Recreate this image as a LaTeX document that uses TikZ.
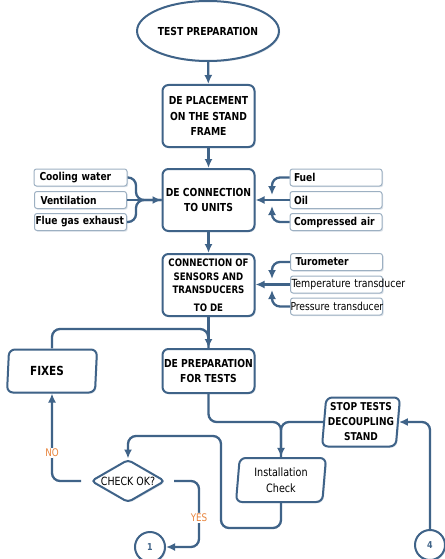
\documentclass[tikz,border=0pt]{standalone}
\usepackage{fontspec}
\setmainfont[FakeStretch=0.93]{DejaVu Sans Condensed}
\usetikzlibrary{arrows.meta,shapes.geometric,shadows}
\definecolor{lc}{HTML}{3F6388}
\definecolor{sc}{HTML}{9DB0C2}
\definecolor{oc}{HTML}{E8843C}
\begin{document}
\begin{tikzpicture}[x=1pt,y=-1pt,
  shad/.style={drop shadow={opacity=0.18, fill=lc, shadow xshift=1.2pt, shadow yshift=-1.2pt}},
  box/.style={draw=lc, line width=2pt, fill=white, rounded corners=6pt, minimum width=92pt,
    align=center, inner sep=1pt, font=\bfseries\fontsize{11}{15.5}\selectfont, shad},
  para/.style={trapezium, trapezium stretches body, draw=lc, line width=2pt, fill=white,
    rounded corners=6pt, align=center, inner sep=1pt, shad},
  small/.style={draw=sc, line width=1pt, fill=white, rounded corners=2.5pt, minimum height=17pt,
    text width=84pt, inner xsep=4pt, inner ysep=0pt, align=left, font=\bfseries\fontsize{10.9}{12}\selectfont, shad},
  circ/.style={circle, draw=lc, line width=2pt, fill=white, minimum size=30pt, inner sep=0pt,
    text=lc, font=\bfseries\fontsize{9.5}{10}\selectfont, shad},
  conn/.style={draw=lc, line width=2.3pt, rounded corners=8pt},
  arr/.style={conn, -{Latex[length=9pt,width=8pt]}},
  lab/.style={text=oc, fill=white, inner sep=1pt, font=\fontsize{10.5}{11}\selectfont}
]
\useasboundingbox (0,0) rectangle (444,559);
\fill[white] (0,0) rectangle (444,559);

% main column
\node[ellipse, draw=lc, line width=2pt, fill=white, minimum width=138pt, minimum height=60pt,
  inner sep=0pt, font=\bfseries\fontsize{11}{12}\selectfont, shad] (e) at (208,31) {TEST PREPARATION};
\node[box, minimum height=62pt] (b1) at (208.5,116) {DE PLACEMENT\\ON THE STAND\\FRAME};
\node[box, minimum height=62pt] (b2) at (208.5,200) {DE CONNECTION\\TO UNITS};
\node[box, minimum height=62pt, font=\bfseries\fontsize{10.3}{13.5}\selectfont] (b3) at (208.5,285)
  {CONNECTION OF\\SENSORS AND\\TRANSDUCERS\\[4pt]TO DE};
\node[box, minimum height=44pt] (b4) at (208.5,371) {DE PREPARATION\\FOR TESTS};

% left inputs
\node[small, minimum width=93pt] (cool) at (80.5,177.5) {\hspace*{1pt}\mbox{Cooling water}};
\node[small] (vent) at (80.5,200) {\hspace*{2pt}Ventilation};
\node[small] (flue) at (80.5,222) {\hspace*{-3pt}\mbox{Flue gas exhaust}};

% right inputs
\node[small] (fuel) at (336,177.5) {Fuel};
\node[small] (oil) at (336,200) {Oil};
\node[small] (air) at (336,222) {\mbox{Compressed air}};

% sensors
\node[small] (tur) at (336.5,262) {\hspace*{1pt}Turometer};
\node[small, font=\fontsize{11.2}{12}\selectfont] (temp) at (336.5,284.5) {\hspace*{-3pt}\mbox{Temperature transducer}};
\node[small, font=\fontsize{11}{12}\selectfont] (pres) at (336.5,306.5) {\hspace*{-4pt}\mbox{Pressure transducer}};

% lower part
\node[para, trapezium left angle=80, trapezium right angle=100, minimum width=90pt, minimum height=43pt,
  font=\bfseries\fontsize{12.5}{14}\selectfont] (fixes) at (52,371) {FIXES\hspace*{10pt}};
\node[para, trapezium left angle=84, trapezium right angle=96, minimum width=78pt, minimum height=49pt,
  font=\bfseries\fontsize{10.8}{15}\selectfont] (stop) at (361,422) {STOP TESTS\\DECOUPLING\\STAND};
\node[para, trapezium left angle=82, trapezium right angle=98, minimum width=90pt, minimum height=44pt,
  font=\fontsize{11.5}{15.5}\selectfont] (inst) at (281,480) {Installation\\Check};
\node[diamond, draw=lc, line width=2pt, fill=white, rounded corners=4pt, minimum width=74pt,
  minimum height=43pt, inner sep=0pt, font=\fontsize{11.3}{12}\selectfont, shad] (dia) at (128,481)
  {\makebox[0pt]{CHECK OK?}};
\node[circ] (c1) at (150,547) {1};
\node[circ] (c4) at (430,545) {4};

% helper coordinates
\coordinate (lj) at (136,200);
\coordinate (rjU) at (272,195);
\coordinate (rjD) at (272,206);
\coordinate (sjU) at (272,279);
\coordinate (sjD) at (272,290);
\coordinate (m1) at (208,329);
\coordinate (j2) at (inst.north |- stop.west);
\coordinate (k1) at (221,528);
\coordinate (k2) at (221,436);
\coordinate (y1) at (199,547);

% connectors
\draw[arr] (e) -- (b1);
\draw[arr] (b1) -- (b2);
\draw[arr] (b2) -- (b3);
\draw[arr] (b3) -- (b4);

\draw[conn] (cool.east) -| (lj) -- (b2.west);
\draw[conn] (flue.east) -| (lj) -- (b2.west);
\draw[arr] (vent.east) -- (vent.east -| b2.west);

\draw[arr] (oil.west) -- (oil.west -| b2.east);
\draw[arr] (fuel.west) -| (rjU);
\draw[arr] (air.west) -| (rjD);

\draw[arr] (temp.west) -- (temp.west -| b3.east);
\draw[arr] (tur.west) -| (sjU);
\draw[arr] (pres.west) -| (sjD);

\draw[conn] (fixes.north) |- (m1) -- (b4.north);
\draw[arr] (b4.south) |- (j2) -- (inst.north);
\draw[conn] (stop.west) -| (inst.north);
\draw[arr] (c4.north) |- (stop.east);
\draw[arr] (inst.south) |- (k1) -- (k2) -| (dia.north);
\draw[arr] ([xshift=-9pt]dia.west) -| (fixes.south) node[lab, pos=0.66] {NO};
\draw[arr] ([xshift=8pt]dia.east) -| (y1) node[lab, pos=0.78] {YES} -- (c1.east);
\end{tikzpicture}
\end{document}
